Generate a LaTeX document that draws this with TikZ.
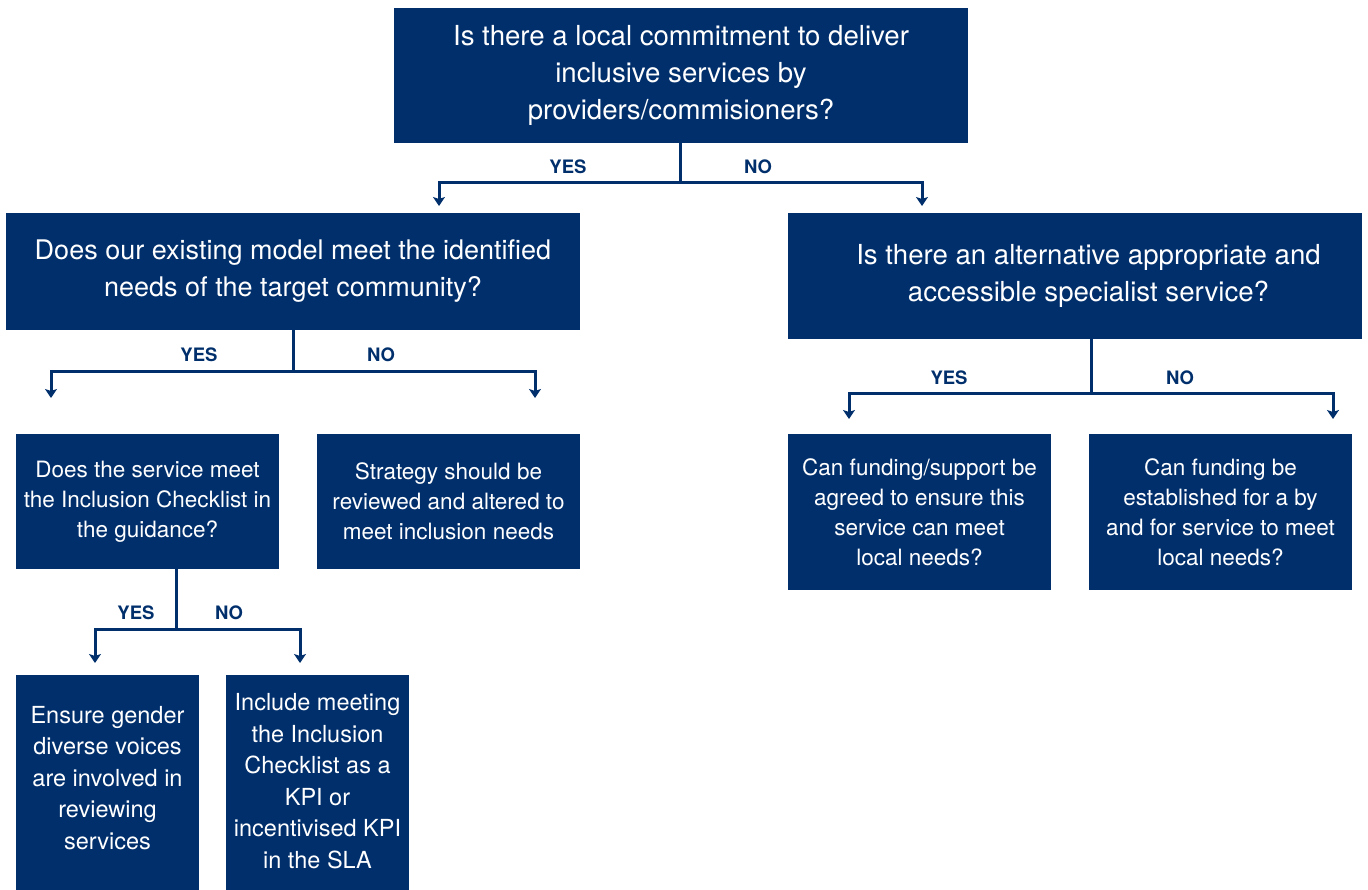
\documentclass[tikz,border=0pt]{standalone}
\usepackage{fontspec}
\setmainfont{TeX Gyre Heros}
\usetikzlibrary{arrows.meta}
\definecolor{navy}{RGB}{0,47,108}
\tikzset{
  box/.style={fill=navy, text=white, align=center, inner sep=0pt},
  bigtxt/.style={font=\fontsize{27.6}{37}\selectfont},
  lefttxt/.style={font=\fontsize{27}{37}\selectfont},
  midtxt/.style={font=\fontsize{22.5}{30}\selectfont},
  smalltxt/.style={font=\fontsize{23.5}{31.5}\selectfont},
  conn/.style={draw=navy, line width=3pt},
  tips/.style={conn, {Stealth[length=9pt,width=12pt,inset=2pt]}-{Stealth[length=9pt,width=12pt,inset=2pt]}},
  yn/.style={text=navy, font=\fontsize{18.5}{20}\bfseries\selectfont, inner sep=0pt}
}
\begin{document}
\begin{tikzpicture}[x=1pt,y=-1pt]
\useasboundingbox (0,0) rectangle (1368,890);
% boxes
\node[box,bigtxt,minimum width=574pt,minimum height=135pt] (top) at (681,75.5)
  {Is there a local commitment to deliver\\inclusive services by\\providers/commisioners?};
\node[box,lefttxt,minimum width=574pt,minimum height=117pt] (l1) at (293,271.5)
  {Does our existing model meet the identified\\needs of the target community?};
\node[box,bigtxt,minimum width=574pt,minimum height=126pt] (r1) at (1075,276)
  {\hspace*{27pt}Is there an alternative appropriate and\\\hspace*{27pt}accessible specialist service?};
\node[box,midtxt,minimum width=263pt,minimum height=135pt] (l2a) at (147.5,501.5)
  {Does the service meet\\the Inclusion Checklist in\\the guidance?};
\node[box,midtxt,minimum width=263pt,minimum height=135pt] (l2b) at (448.5,501.5)
  {Strategy should be\\reviewed and altered to\\meet inclusion needs};
\node[box,midtxt,minimum width=263pt,minimum height=156pt] (r2a) at (919.5,512)
  {Can funding/support be\\agreed to ensure this\\service can meet\\local needs?};
\node[box,midtxt,minimum width=263pt,minimum height=156pt] (r2b) at (1220.5,512)
  {Can funding be\\established for a by\\and for service to meet\\local needs?};
\node[box,smalltxt,minimum width=183pt,minimum height=215pt,anchor=north] (l3a) at (107.5,675)
  {};
\node[smalltxt,text=white,align=center,inner sep=0pt] (l3at) at (107.5,778)
  {Ensure gender\\diverse voices\\are involved in\\reviewing\\services};
\node[box,smalltxt,minimum width=183pt,minimum height=215pt,anchor=north] (l3b) at (317.5,675)
  {};
\node[smalltxt,text=white,align=center,inner sep=0pt] (l3bt) at (317.5,781)
  {Include meeting\\the Inclusion\\Checklist as a\\KPI or\\incentivised KPI\\in the SLA};
% junctions and arrow ends
\coordinate (j0) at (680,183);
\coordinate (a0y) at (439,206);
\coordinate (a0n) at (922,206);
\coordinate (j1) at (293,372);
\coordinate (a1y) at (51,398);
\coordinate (a1n) at (535,398);
\coordinate (j2) at (1091,394);
\coordinate (a2y) at (849,419);
\coordinate (a2n) at (1333,419);
\coordinate (j3) at (176,629);
\coordinate (a3y) at (95,663);
\coordinate (a3n) at (300,663);
% connectors
\draw[conn] (top.south -| j0) -- (j0);
\draw[tips] (a0y) -- (a0y |- j0) -- (a0n |- j0) -- (a0n);
\draw[conn] (l1.south -| j1) -- (j1);
\draw[tips] (a1y) -- (a1y |- j1) -- (a1n |- j1) -- (a1n);
\draw[conn] (r1.south -| j2) -- (j2);
\draw[tips] (a2y) -- (a2y |- j2) -- (a2n |- j2) -- (a2n);
\draw[conn] (l2a.south -| j3) -- (j3);
\draw[tips] (a3y) -- (a3y |- j3) -- (a3n |- j3) -- (a3n);
% labels
\node[yn] (y0) at (568,167) {YES};
\node[yn] (n0) at (758,167) {NO};
\node[yn] (y1) at (199,355) {YES};
\node[yn] (n1) at (381,355) {NO};
\node[yn] (y2) at (949,378) {YES};
\node[yn] (n2) at (1180,378) {NO};
\node[yn] (y3) at (136,613) {YES};
\node[yn] (n3) at (229,613) {NO};
\end{tikzpicture}
\end{document}
